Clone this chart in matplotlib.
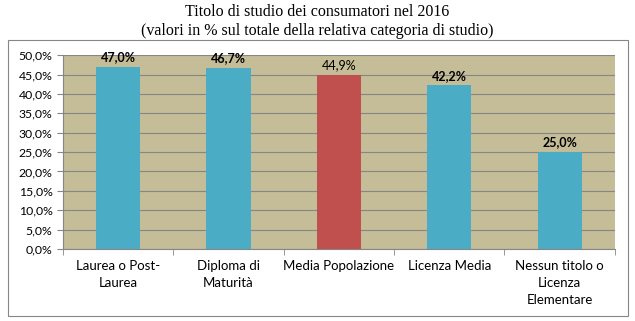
import numpy as np
import matplotlib.pyplot as plt
from matplotlib.patches import Rectangle
from matplotlib.ticker import FuncFormatter, FixedLocator

categorie = ["Laurea o Post-\nLaurea", "Diploma di\nMaturità", "Media Popolazione",
             "Licenza Media", "Nessun titolo o\nLicenza\nElementare"]
valori = [47.0, 46.7, 44.9, 42.2, 25.0]
etichette = ["47,0%", "46,7%", "44,9%", "42,2%", "25,0%"]
grassetto = [True, True, False, True, True]
colori = ["#4BACC6", "#4BACC6", "#C0504D", "#4BACC6", "#4BACC6"]

fig = plt.figure(figsize=(6.35, 3.21), dpi=100)
ax = fig.add_axes([0.0992, 0.2243, 0.869, 0.604])

# cornice esterna del grafico
fig.patches.append(Rectangle((0.0126, 0.0156), 0.976, 0.86, transform=fig.transFigure,
                             fill=False, edgecolor="#868686", linewidth=0.8))

x = np.arange(len(valori))
ax.set_facecolor("#C4BD97")
ax.bar(x, valori, width=0.4, color=colori, zorder=3)
ax.set_xlim(-0.5, len(valori) - 0.5)
ax.set_ylim(0, 50)
ax.set_yticks(np.arange(0, 51, 5))
ax.yaxis.set_major_formatter(FuncFormatter(lambda v, p: f"{v:.1f}%".replace(".", ",")))
ax.grid(axis="y", color="#868686", linewidth=0.8, zorder=0)
ax.set_axisbelow(True)

ax.set_xticks(x)
ax.set_xticklabels(categorie, fontsize=9.5, family="Lato", linespacing=1.5)
ax.tick_params(axis="x", length=0, pad=8)
ax.xaxis.set_minor_locator(FixedLocator(np.arange(-0.5, len(valori), 1)))
ax.tick_params(axis="x", which="minor", length=4, color="#868686")
ax.tick_params(axis="y", length=4, color="#868686", labelsize=8.8)
for t in ax.get_yticklabels():
    t.set_family("Lato")

for s in ["top", "right"]:
    ax.spines[s].set_visible(False)
for s in ["left", "bottom"]:
    ax.spines[s].set_color("#868686")

for xi, v, lab, b in zip(x, valori, etichette, grassetto):
    ax.text(xi, v + 0.9, lab, ha="center", va="bottom", fontsize=9, family="Lato",
            fontweight="bold" if b else "normal")

fig.text(0.5, 0.962, "Titolo di studio dei consumatori nel 2016", ha="center", va="center",
         fontsize=11.5, family="Liberation Serif")
fig.text(0.5, 0.902, "(valori in % sul totale della relativa categoria di studio)", ha="center",
         va="center", fontsize=11.5, family="Liberation Serif")

fig.savefig("out.png", dpi=100)
